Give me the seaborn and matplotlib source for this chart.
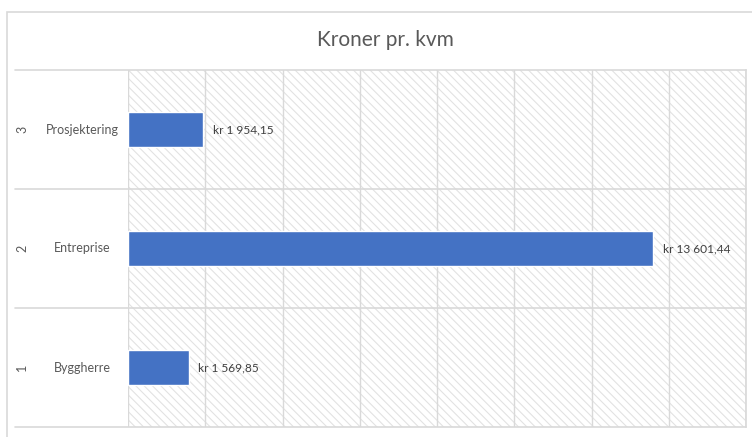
import matplotlib
matplotlib.use("Agg")
import matplotlib.pyplot as plt
import matplotlib.transforms as mtransforms
from matplotlib.patches import Rectangle
import seaborn as sns
import pandas as pd

# Cost per square metre by role
categories = ["Prosjektering", "Entreprise", "Byggherre"]
numbers = ["3", "2", "1"]
values = [1954.15, 13601.44, 1569.85]
value_labels = ["kr 1 954,15", "kr 13 601,44", "kr 1 569,85"]
x_ticks = [0, 2000, 4000, 6000, 8000, 10000, 12000, 14000, 16000]

df = pd.DataFrame({"kategori": categories, "verdi": values})

sns.set_theme(style="white")
plt.rcParams["font.family"] = ["Lato", "DejaVu Sans"]
plt.rcParams["hatch.color"] = "#e2e2e2"
plt.rcParams["hatch.linewidth"] = 0.8

W, H = 752, 437
fig = plt.figure(figsize=(W / 100, H / 100), dpi=100)
fig.patch.set_facecolor("white")

# Outer chart frame
fig.patches.append(Rectangle((7 / W, -0.05), 1.1, (437 - 12) / H + 0.05,
                             transform=fig.transFigure, fill=False,
                             edgecolor="#d9d9d9", linewidth=1.2, zorder=0))

ax = fig.add_axes([128 / W, (437 - 427) / H, (746 - 128) / W, (427 - 70) / H])
ax.set_facecolor("white")

# Diagonal hatched plot background
ax.add_patch(Rectangle((0, 0), 1, 1, transform=ax.transAxes, facecolor="white",
                       edgecolor="#e2e2e2", hatch="\\\\\\\\", linewidth=0, zorder=0))

sns.barplot(data=df, y="kategori", x="verdi", orient="h", color="#4472c4",
            saturation=1, width=0.29, ax=ax, zorder=3)

ax.set_xlim(x_ticks[0], x_ticks[-1])
ax.set_ylim(2.5, -0.5)
ax.set_xticks(x_ticks)
ax.set_xticklabels([])
ax.tick_params(axis="both", length=0)
ax.set_xlabel("")
ax.set_ylabel("")
ax.set_yticks([])
ax.grid(axis="x", color="#d9d9d9", linewidth=1.0, zorder=1)
for s in ax.spines.values():
    s.set_visible(False)
ax.spines["right"].set_visible(True)
ax.spines["right"].set_color("#d9d9d9")

# Category separators spanning into the label column
blend = mtransforms.blended_transform_factory(ax.transAxes, ax.transData)
left_ext = -(128 - 15) / (746 - 128)
for yb in [-0.5, 0.5, 1.5, 2.5]:
    ax.plot([left_ext, 1], [yb, yb], transform=blend, color="#d9d9d9",
            linewidth=1.2, clip_on=False, zorder=2)

# Two-level category labels
x_name = -(128 - 82) / (746 - 128)
x_num = -(128 - 22) / (746 - 128)
for i, (name, num) in enumerate(zip(categories, numbers)):
    ax.text(x_name, i, name, transform=blend, ha="center", va="center",
            fontsize=9, color="#595959")
    ax.text(x_num, i, num, transform=blend, ha="center", va="center",
            fontsize=9, color="#595959", rotation=90)

# Value labels at the bar ends
for i, (v, lab) in enumerate(zip(values, value_labels)):
    ax.annotate(lab, (v, i), xytext=(7, 0), textcoords="offset points",
                ha="left", va="center", fontsize=8.6, color="#404040", zorder=4)

fig.text(385 / W, (437 - 40) / H, "Kroner pr. kvm", ha="center", va="center",
         fontsize=15, color="#595959")

fig.savefig("out.png", dpi=100, facecolor="white")
